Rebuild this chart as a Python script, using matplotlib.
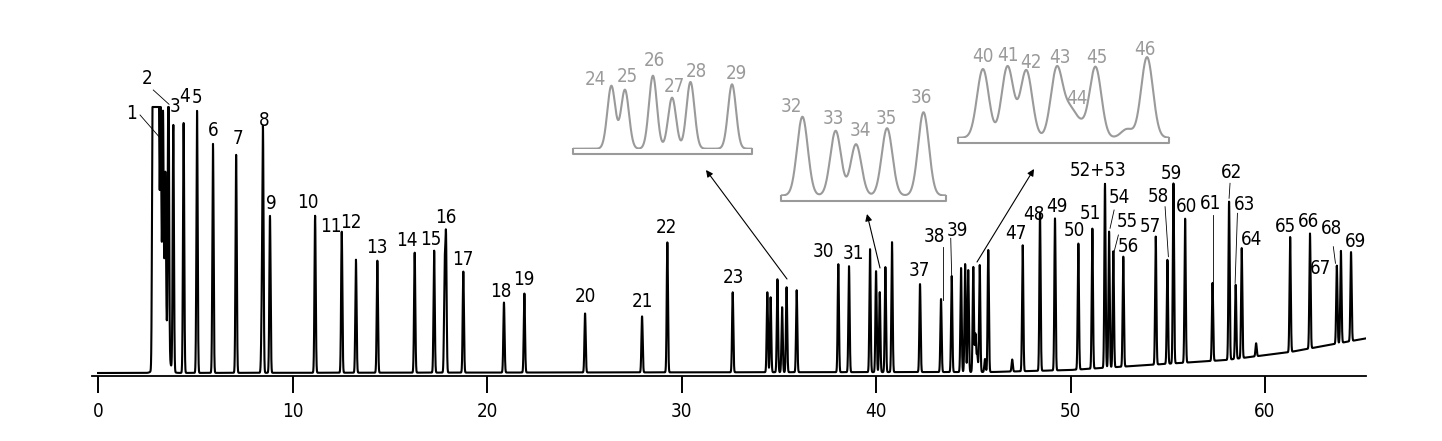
import numpy as np
import matplotlib.pyplot as plt
from matplotlib import font_manager

# peaks: retention time (min), height above baseline
peak_t = [2.81, 2.87, 2.93, 2.99, 3.05, 3.12, 3.22, 3.34, 3.46, 3.62, 3.87, 4.40, 5.09,
          5.91, 7.10, 8.42, 8.48, 8.84, 11.16, 12.53, 13.26, 14.36, 16.28,
          17.28, 17.82, 17.89, 18.78, 20.87, 21.92, 25.04, 27.97, 29.27, 32.63,
          34.41, 34.58, 34.93, 35.17, 35.40, 35.92, 38.06, 38.61,
          39.69, 40.00, 40.19, 40.48, 40.82, 42.26, 43.34, 43.89,
          44.37, 44.58, 44.74, 45.00, 45.11, 45.20, 45.33, 45.60, 45.77,
          47.00, 47.54, 48.43, 49.20, 50.40, 51.12, 51.77, 51.98, 52.20, 52.71,
          54.38, 54.98, 55.29, 55.89, 57.30, 58.15, 58.49, 58.80, 59.54,
          61.29, 62.31, 63.69, 63.90, 64.42]
peak_h = [300, 300, 300, 300, 260, 238, 211, 203, 155, 300, 246, 250, 262,
          229, 218, 55, 237, 157, 157, 141, 113, 112, 120,
          122, 100, 132, 101, 70, 79, 59, 56, 130, 80,
          80, 75, 93, 65, 85, 82, 108, 106,
          123, 101, 80, 105, 130, 88, 73, 96,
          104, 108, 102, 105, 38, 18, 107, 13, 122,
          12, 126, 157, 152, 126, 140, 184, 136, 116, 110,
          128, 104, 180, 144, 78, 158, 74, 110, 13,
          115, 115, 78, 92, 89]

# broad solvent tail under the first peaks
hump_t = [3.3]
hump_h = [60]
hump_w = [0.22]

# baseline drift towards the end of the run
drift_t = [0, 46, 50, 54, 58, 61.3, 63, 65.3]
drift_h = [0, 1, 3, 8, 13, 21, 27, 35]

# peak numbers on the main trace
labels = ["1", "2", "3", "4", "5", "6", "7", "8", "9", "10", "11", "12", "13",
          "14", "15", "16", "17", "18", "19", "20", "21", "22", "23", "30", "31",
          "37", "38", "39", "47", "48", "49", "50", "51", "52+53", "54", "55",
          "56", "57", "58", "59", "60", "61", "62", "63", "64", "65", "66",
          "67", "68", "69"]
label_t = [1.74, 2.50, 3.96, 4.44, 5.07, 5.93, 7.21, 8.53, 8.93, 10.78, 11.96,
           13.01, 14.33, 15.87, 17.11, 17.88, 18.75, 20.72, 21.87, 25.04, 27.98,
           29.24, 32.66, 37.29, 38.83, 42.21, 43.00, 44.18, 47.20, 48.09, 49.29,
           50.18, 51.00, 51.40, 52.51, 52.92, 52.97, 54.09, 54.51, 55.20, 55.94,
           57.21, 58.25, 58.97, 59.32, 61.03, 62.23, 62.86, 63.43, 64.63]
label_y = [259.7, 294.7, 266.3, 277, 275.7, 242, 234, 252, 169.7, 170.3, 147,
           150.3, 125.3, 133, 133.7, 155.3, 113.7, 81.3, 93.7, 76.3, 71.3,
           145.7, 95.7, 121.3, 119.7, 103, 137, 142.3, 139.7, 158.7, 167,
           143, 159.7, 203, 175.7, 151.3, 126.3, 146.3, 176.3, 199.7, 167,
           169.7, 200.3, 168, 133.7, 146.3, 151.3, 104.7, 144.7, 131.3]

# leader lines from label to peak
leaders = [(2.16, 258, 3.36, 231.3), (2.84, 283, 3.65, 268.7),
           (43.43, 125.7, 43.43, 73), (43.84, 134.7, 43.89, 96.3),
           (52.24, 163, 52.03, 144.7), (52.46, 138, 52.24, 121.3),
           (54.86, 166.3, 55.03, 116.3), (57.34, 158, 57.34, 89.7),
           (58.20, 189.7, 58.15, 174.7), (58.58, 159.7, 58.46, 89.7),
           (63.51, 126.3, 63.62, 109.7)]

# expanded views: time window, numbers shown
inset1_win = (33.93, 36.17)
inset1_labels = ["24", "25", "26", "27", "28", "29"]
inset1_lt = [34.21, 34.61, 34.95, 35.20, 35.48, 35.97]
inset1_ly = [88.3, 92.5, 112.9, 79.7, 98.9, 96.8]

inset2_win = (39.49, 41.03)
inset2_labels = ["32", "33", "34", "35", "36"]
inset2_lt = [39.59, 39.98, 40.23, 40.47, 40.80]
inset2_ly = [139.5, 121.4, 101.6, 121.4, 154.2]

inset3_win = (44.16, 45.96)
inset3_labels = ["40", "41", "42", "43", "44", "45", "46"]
inset3_lt = [44.37, 44.58, 44.78, 45.03, 45.17, 45.34, 45.75]
inset3_ly = [123.6, 126.2, 115.2, 122.7, 60.6, 122.7, 135.3]

GREY = "#9a9a9a"
W, H = 1442, 441

# condensed face like the original print
FP = font_manager.FontProperties(family="DejaVu Sans", stretch="condensed", size=13.5)


def signal(t, sigma):
    y = np.interp(t, drift_t, drift_h)
    for t0, h in zip(peak_t, peak_h):
        y = y + h * np.exp(-0.5 * ((t - t0) / sigma) ** 2)
    for t0, h, w in zip(hump_t, hump_h, hump_w):
        y = y + h * np.exp(-0.5 * ((t - t0) / w) ** 2)
    return y


def add_inset(fig, win, left, right, base, scale, names, lt, ly):
    top = base - 100
    ax = fig.add_axes([left / W, (H - base) / H, (right - left) / W, (base - top) / H])
    t = np.linspace(win[0], win[1], 1500)
    ax.plot(t, signal(t, 0.05), color=GREY, lw=1.5)
    ax.set_xlim(win)
    ax.set_ylim(0, (base - top) / scale)
    ax.axis("off")
    d = 5 / (base - top)
    ax.plot([0, 0, 1, 1], [0, -d, -d, 0], color=GREY, lw=1.5,
            transform=ax.transAxes, clip_on=False)
    for s, x, y in zip(names, lt, ly):
        ax.text(x, y, s, color=GREY, fontproperties=FP,
                ha="center", va="center", clip_on=False)


def main():
    fig = plt.figure(figsize=(W / 100, H / 100), dpi=100)
    ax = fig.add_axes([92.2 / W, 65 / H, (1366 - 92.2) / W, 376 / H])

    t = np.linspace(0, 65.2, 30000)
    y = np.minimum(signal(t, 0.032), 266)
    ax.plot(t, y, color="black", lw=1.5)

    ax.set_xlim(-0.3, 65.19)
    ax.set_ylim(-3, 373)
    for side in ["top", "right", "left"]:
        ax.spines[side].set_visible(False)
    ax.spines["bottom"].set_linewidth(1.3)
    ax.set_yticks([])
    ax.set_xticks(np.arange(0, 61, 10))
    ax.tick_params(axis="x", direction="out", length=12, width=1.4, pad=7)
    for lab in ax.get_xticklabels():
        lab.set_fontproperties(FP)

    for s, x, yy in zip(labels, label_t, label_y):
        ax.text(x, yy, s, fontproperties=FP, ha="center", va="center")
    for x0, y0, x1, y1 in leaders:
        ax.plot([x0, x1], [y0, y1], color="black", lw=0.6)

    add_inset(fig, inset1_win, 573, 752, 149.3, 0.785,
              inset1_labels, inset1_lt, inset1_ly)
    add_inset(fig, inset2_win, 781, 946, 196, 0.64,
              inset2_labels, inset2_lt, inset2_ly)
    add_inset(fig, inset3_win, 958.3, 1169.3, 138.3, 0.66,
              inset3_labels, inset3_lt, inset3_ly)

    # arrows from the crowded regions to the expanded views
    arrows = [((787, 279), (706, 170)), ((880, 268), (867, 214)),
              ((977, 262), (1034, 169))]
    for (x0, y0), (x1, y1) in arrows:
        ax.annotate("", xy=(x1, H - y1), xytext=(x0, H - y0),
                    xycoords="figure pixels", textcoords="figure pixels",
                    arrowprops=dict(arrowstyle="-|>", lw=0.8, color="black",
                                    mutation_scale=10, shrinkA=0, shrinkB=0))

    fig.savefig("out.png", dpi=100)


if __name__ == "__main__":
    main()
